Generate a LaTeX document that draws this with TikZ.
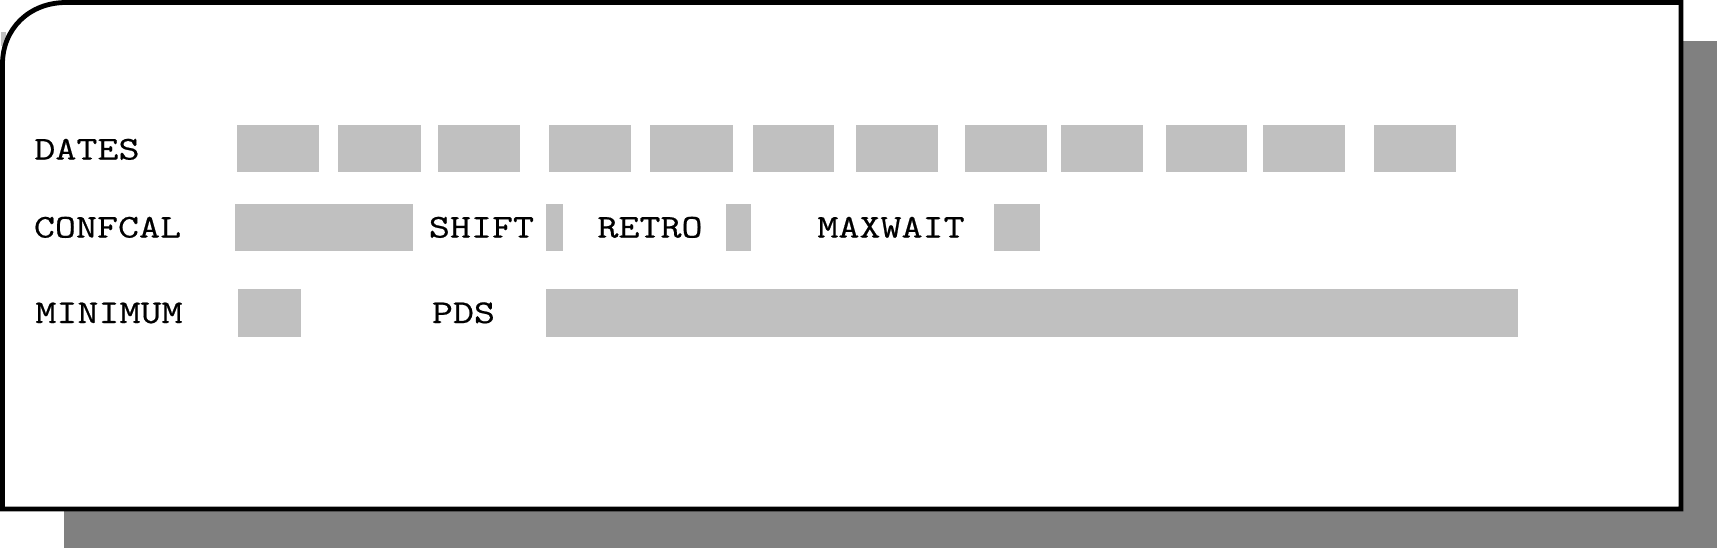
\documentclass[tikz,border=0pt]{standalone}
\usepackage{fontspec}
\newfontfamily\monofnt[FakeStretch=1.23,FakeBold=0.6]{Latin Modern Mono}
\definecolor{shadowgray}{HTML}{808080}
\definecolor{fieldgray}{HTML}{C0C0C0}
\tikzset{
  lbl/.style={anchor=base west, inner sep=0pt, font=\monofnt\fontsize{16.6}{20}\selectfont},
  field/.style={fill=fieldgray, draw=none},
}
\begin{document}
\begin{tikzpicture}[x=0.5pt,y=-0.5pt]
\useasboundingbox (0,0) rectangle (1717,548);
\fill[white] (0,0) rectangle (1717,548);
% shadow
\fill[shadowgray] (63.5,40.5) rectangle (1717,548);
% tiny light patch at top-left
\fill[fieldgray] (1,32) rectangle (6,46);
% main panel
\filldraw[fill=white, draw=black, line width=2.4pt, line join=miter]
  (2.5,509) -- (2.5,64) .. controls (2.5,29) and (29,2.5) .. (66,2.5) -- (1681,2.5) -- (1681,509) -- cycle;
% row 1
\node[lbl] (dates) at (34,159.5) {DATES};
\foreach \a/\b [count=\i] in {236.5/318.6, 338.4/420.5, 438/520, 548.6/630.7, 650.4/732.6, 753.4/834.4, 856.3/938.4, 964.7/1046.8, 1061/1143.2, 1166.2/1247.2, 1262.5/1344.7, 1374.2/1456.4}
  \fill[field] (\a,125) rectangle (\b,172);
% row 2
\node[lbl] (confcal) at (33.5,237.5) {CONFCAL};
\fill[field] (235.4,204) rectangle (412.8,251);
\node[lbl] (shift) at (428.5,237.5) {SHIFT};
\fill[field] (546.4,204) rectangle (562.8,251);
\node[lbl] (retro) at (597,237.5) {RETRO};
\fill[field] (726,204) rectangle (751,251);
\node[lbl] (maxwait) at (817,237.5) {MAXWAIT};
\fill[field] (994,204) rectangle (1040,251);
% row 3
\node[lbl] (minimum) at (35,323) {MINIMUM};
\fill[field] (237.6,289.3) rectangle (301,336.5);
\node[lbl] (pds) at (431.5,323) {PDS};
\fill[field] (546.4,289.3) rectangle (1517.7,336.5);
\end{tikzpicture}
\end{document}
